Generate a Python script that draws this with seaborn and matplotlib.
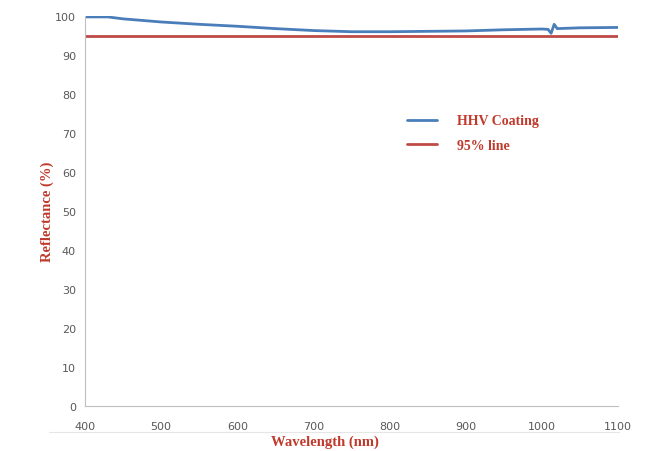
import matplotlib
matplotlib.use("Agg")
import matplotlib.pyplot as plt
import seaborn as sns
import pandas as pd

# Data
wavelength = [400, 430, 450, 500, 550, 600, 650, 700, 750, 800, 850, 900,
              950, 1000, 1008, 1012, 1016, 1020, 1050, 1100]
reflectance = [99.8, 99.8, 99.3, 98.5, 97.9, 97.4, 96.8, 96.3, 96.0, 96.0,
               96.1, 96.2, 96.5, 96.7, 96.6, 95.6, 97.9, 96.8, 97.0, 97.1]
line_x = [400, 1100]
line_y = [95, 95]

df = pd.DataFrame({"Wavelength": wavelength, "Reflectance": reflectance})
ref = pd.DataFrame({"Wavelength": line_x, "Reflectance": line_y})

sns.set_style("white")

fig = plt.figure(figsize=(6.59, 4.52), dpi=100)
ax = fig.add_axes([0.129, 0.0996, 0.809, 0.8625])

sns.lineplot(data=df, x="Wavelength", y="Reflectance", ax=ax,
             color="#4a7ebb", linewidth=2, label="HHV Coating")
sns.lineplot(data=ref, x="Wavelength", y="Reflectance", ax=ax,
             color="#be4b48", linewidth=2, label="95% line")

ax.set_xlim(400, 1100)
ax.set_ylim(0, 100)
ax.set_xticks(range(400, 1101, 100))
ax.set_yticks(range(0, 101, 10))

for s in ["top", "right"]:
    ax.spines[s].set_visible(False)
for s in ["left", "bottom"]:
    ax.spines[s].set_color("#bfbfbf")
    ax.spines[s].set_linewidth(0.8)
ax.tick_params(axis="both", colors="#bfbfbf", labelcolor="#595959",
               labelsize=8, length=3, direction="out")
ax.tick_params(axis="x", pad=8)

label_font = dict(family="Liberation Serif", fontweight="bold",
                  color="#c0392b", fontsize=10.5)
ax.set_xlabel("Wavelength (nm)", **label_font)
ax.set_ylabel("Reflectance (%)", **label_font)
ax.xaxis.set_label_coords(0.45, -0.073)
ax.yaxis.set_label_coords(-0.058, 0.5)

leg = ax.legend(loc="upper left", bbox_to_anchor=(0.58, 0.78), frameon=False,
                handlelength=2.2, handletextpad=1.4, labelspacing=0.8,
                prop={"family": "Liberation Serif", "weight": "bold", "size": 10})
for t in leg.get_texts():
    t.set_color("#c0392b")

# faint outer chart frame line like the source
fig.add_artist(plt.Line2D([0.075, 0.94], [0.042, 0.042], color="#e6e6e6", linewidth=0.8))

fig.savefig("out.png", dpi=100)
